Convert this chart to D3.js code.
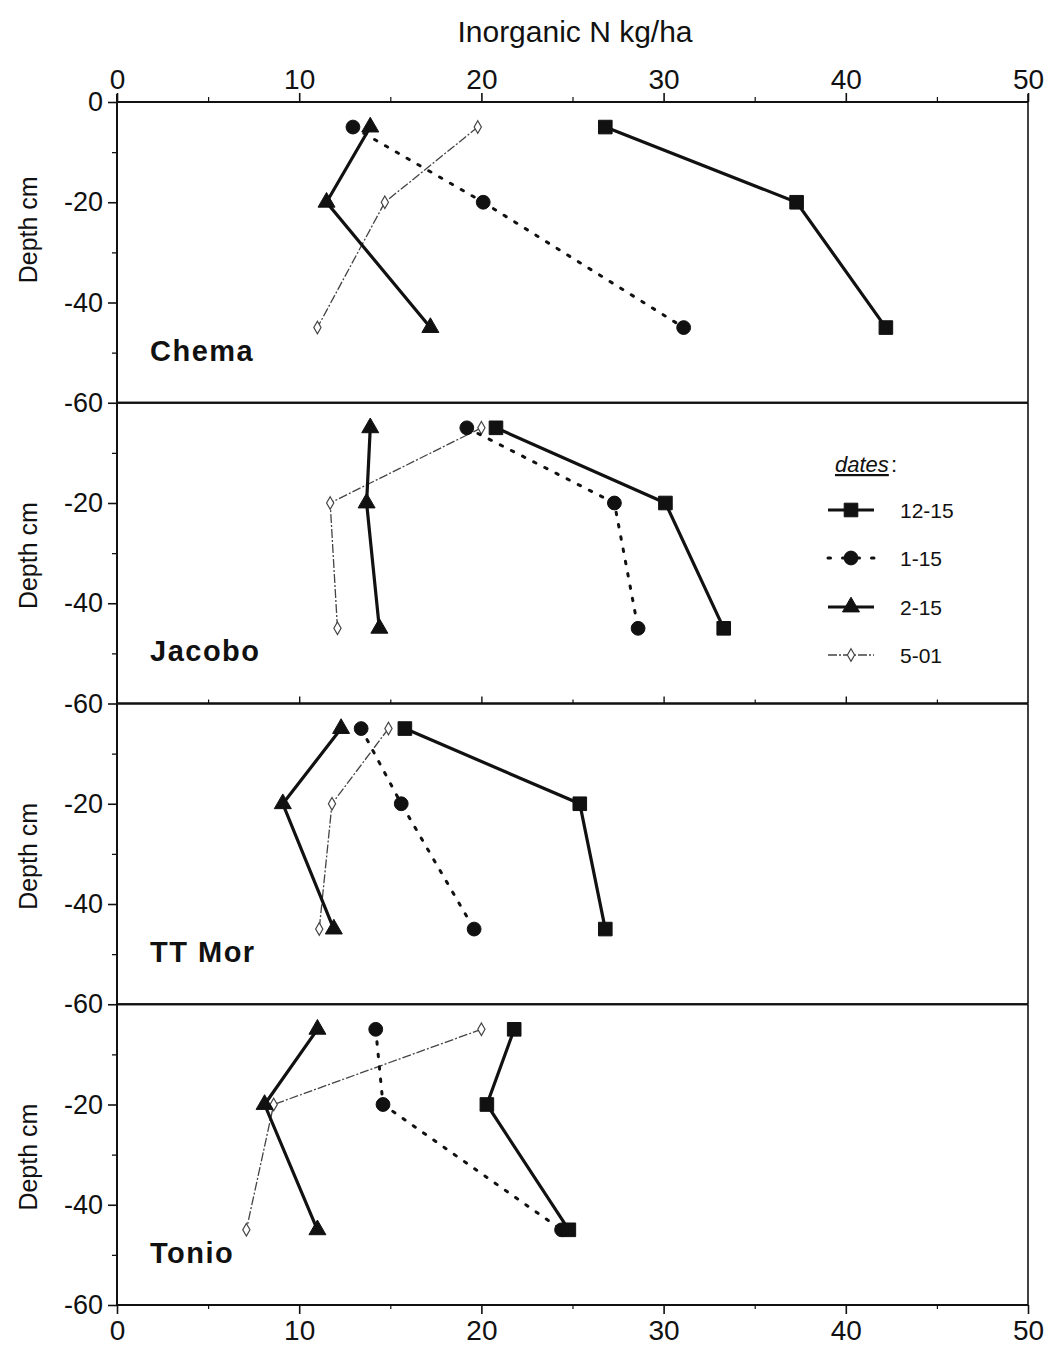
<!DOCTYPE html>
<html><head><meta charset="utf-8">
<script src="https://cdn.jsdelivr.net/npm/d3@7"></script>
<style>body{margin:0;background:#fff}svg{display:block}</style>
</head><body>
<svg id="c" width="1051" height="1352"></svg>
<script>
// ---- data ----
const sites = ["Chema", "Jacobo", "TT Mor", "Tonio"];
const dateLabels = ["12-15", "1-15", "2-15", "5-01"];
const depths = [-5, -20, -45];
// values per site (rows) at depths -5, -20, -45
const d1215 = [[26.8, 37.3, 42.2], [20.8, 30.1, 33.3], [15.8, 25.4, 26.8], [21.8, 20.3, 24.8]];
const d0115 = [[12.95, 20.1, 31.1], [19.2, 27.3, 28.6], [13.4, 15.6, 19.6], [14.2, 14.6, 24.4]];
const d0215 = [[13.9, 11.5, 17.2], [13.9, 13.7, 14.4], [12.3, 9.1, 11.9], [11.0, 8.1, 11.0]];
const d0501 = [[19.8, 14.7, 11.0], [20.0, 11.7, 12.1], [14.9, 11.8, 11.1], [20.0, 8.6, 7.1]];
const xTicks = [0, 10, 20, 30, 40, 50];
const xMinor = [5, 15, 25, 35, 45];
const yTicks = [0, -20, -40, -60];
const yMinor = [-10, -30, -50];

// ---- layout ----
const svg = d3.select("#c");
const leftX = 117, rightX = 1028, topY = 102, panelH = 300.75;
const font = "'Liberation Sans', Arial, sans-serif";
const x = d3.scaleLinear().domain([0, 50]).range([leftX, rightX]);

const series = [
  {name: dateLabels[0], vals: d1215, sym: d3.symbolSquare, size: 185, fill: "#111", stroke: "#111", sw: 3.2, dash: null, msw: 1},
  {name: dateLabels[1], vals: d0115, sym: d3.symbolCircle, size: 150, fill: "#111", stroke: "#111", sw: 3, dash: "2.5 10", msw: 1},
  {name: dateLabels[2], vals: d0215, sym: d3.symbolTriangle, size: 125, fill: "#111", stroke: "#111", sw: 3.2, dash: null, msw: 1},
  {name: dateLabels[3], vals: d0501, sym: d3.symbolDiamond, size: 45, fill: "#fff", stroke: "#444", sw: 1.3, dash: "9 2 2 2", msw: 1.2}
];
const drawOrder = [3, 1, 2, 0];

// top x axis
const gTop = svg.append("g").attr("transform", `translate(0,${topY})`)
  .call(d3.axisTop(x).tickValues(xTicks).tickSize(9).tickFormat(d3.format("d")));
gTop.select(".domain").remove();
gTop.selectAll("line").attr("stroke", "#111").attr("stroke-width", 1.6);
gTop.selectAll("text").attr("font-family", font).attr("font-size", 28).attr("fill", "#111").attr("dy", "-0.05em");
svg.append("g").attr("transform", `translate(0,${topY})`)
  .call(d3.axisTop(x).tickValues(xMinor).tickSize(5).tickFormat(""))
  .call(g => g.select(".domain").remove())
  .selectAll("line").attr("stroke", "#111").attr("stroke-width", 1.2);

svg.append("text").attr("x", 575).attr("y", 42).attr("text-anchor", "middle")
  .attr("font-family", font).attr("font-size", 30).attr("fill", "#111").text("Inorganic N kg/ha");

sites.forEach((site, i) => {
  const y0 = topY + i * panelH;
  const y = d3.scaleLinear().domain([0, -60]).range([y0, y0 + panelH]);
  const g = svg.append("g");

  // left axis
  const ticks = i === 0 ? yTicks : yTicks.slice(1);
  const ga = g.append("g").attr("transform", `translate(${leftX},0)`)
    .call(d3.axisLeft(y).tickValues(ticks).tickSize(9).tickPadding(5).tickFormat(d => String(d)));
  ga.select(".domain").remove();
  ga.selectAll("line").attr("stroke", "#111").attr("stroke-width", 1.6);
  ga.selectAll("text").attr("font-family", font).attr("font-size", 27).attr("fill", "#111");
  g.append("g").attr("transform", `translate(${leftX},0)`)
    .call(d3.axisLeft(y).tickValues(yMinor).tickSize(5).tickFormat(""))
    .call(s => s.select(".domain").remove())
    .selectAll("line").attr("stroke", "#111").attr("stroke-width", 1.3);

  // frame lines
  g.append("line").attr("x1", leftX).attr("x2", rightX).attr("y1", y(0)).attr("y2", y(0))
    .attr("stroke", "#111").attr("stroke-width", 2.2);
  g.append("line").attr("x1", leftX).attr("x2", rightX).attr("y1", y(-60)).attr("y2", y(-60))
    .attr("stroke", "#111").attr("stroke-width", 2.2);
  g.append("line").attr("x1", leftX).attr("x2", leftX).attr("y1", y(0) - (i === 0 ? 8 : 0)).attr("y2", y(-60))
    .attr("stroke", "#111").attr("stroke-width", 2);
  g.append("line").attr("x1", rightX).attr("x2", rightX).attr("y1", y(0) - (i === 0 ? 8 : 0)).attr("y2", y(-60))
    .attr("stroke", "#111").attr("stroke-width", 1.6);

  // inner x ticks on Jacobo's bottom edge
  if (i === 1) {
    g.append("g").attr("transform", `translate(0,${y(-60)})`)
      .call(d3.axisTop(x).tickValues(xTicks.slice(1, -1)).tickSize(7).tickFormat(""))
      .call(s => s.select(".domain").remove())
      .selectAll("line").attr("stroke", "#111").attr("stroke-width", 1.4);
    g.append("g").attr("transform", `translate(0,${y(-60)})`)
      .call(d3.axisTop(x).tickValues(xMinor).tickSize(4).tickFormat(""))
      .call(s => s.select(".domain").remove())
      .selectAll("line").attr("stroke", "#111").attr("stroke-width", 1.2);
  }

  // y title
  const yc = i === 0 ? y(-25.5) : y(-30.5);
  g.append("text").attr("transform", `translate(37,${yc}) rotate(-90)`).attr("text-anchor", "middle")
    .attr("font-family", font).attr("font-size", 25).attr("fill", "#111").text("Depth cm");

  // site label
  g.append("text").attr("x", 150).attr("y", y(-51.6)).attr("font-family", font).attr("font-weight", "bold")
    .attr("font-size", 29).attr("letter-spacing", 1.5).attr("fill", "#111").text(site);

  // series
  drawOrder.forEach(k => {
    const s = series[k];
    const pts = depths.map((d, j) => [s.vals[i][j], d]);
    g.append("path").datum(pts)
      .attr("d", d3.line().x(p => x(p[0])).y(p => y(p[1])))
      .attr("fill", "none").attr("stroke", s.stroke).attr("stroke-width", s.sw)
      .attr("stroke-dasharray", s.dash).attr("stroke-linecap", k === 1 ? "round" : "butt");
    g.selectAll(null).data(pts).enter().append("path")
      .attr("transform", p => `translate(${x(p[0])},${y(p[1])})`)
      .attr("d", d3.symbol().type(s.sym).size(s.size))
      .attr("fill", s.fill).attr("stroke", s.stroke).attr("stroke-width", s.msw);
  });
});

// bottom x axis
const yb = topY + 4 * panelH;
const gb = svg.append("g").attr("transform", `translate(0,${yb})`)
  .call(d3.axisBottom(x).tickValues(xTicks).tickSize(9).tickPadding(6).tickFormat(d3.format("d")));
gb.select(".domain").remove();
gb.selectAll("line").attr("stroke", "#111").attr("stroke-width", 1.6);
gb.selectAll("text").attr("font-family", font).attr("font-size", 28).attr("fill", "#111");
svg.append("g").attr("transform", `translate(0,${yb})`)
  .call(d3.axisBottom(x).tickValues(xMinor).tickSize(4).tickFormat(""))
  .call(g => g.select(".domain").remove())
  .selectAll("line").attr("stroke", "#111").attr("stroke-width", 1.2);

// legend
const lg = svg.append("g").attr("transform", "translate(828,0)");
lg.append("text").attr("x", 7).attr("y", 472).attr("font-family", font).attr("font-style", "italic")
  .attr("font-size", 22).attr("fill", "#111").attr("text-decoration", "underline").text("dates");
lg.append("text").attr("x", 63).attr("y", 472).attr("font-family", font)
  .attr("font-size", 22).attr("fill", "#111").text(":");
const legY = [510, 558, 607, 655];
series.forEach((s, k) => {
  const row = lg.append("g").attr("transform", `translate(0,${legY[k]})`);
  row.append("line").attr("x1", 0).attr("x2", 46).attr("y1", 0).attr("y2", 0)
    .attr("stroke", s.stroke).attr("stroke-width", s.sw).attr("stroke-dasharray", k === 1 ? "2.5 12" : (k === 3 ? "9 2 2 2" : null))
    .attr("stroke-linecap", k === 1 ? "round" : "butt");
  row.append("path").attr("transform", "translate(23,0)")
    .attr("d", d3.symbol().type(s.sym).size(s.size))
    .attr("fill", s.fill).attr("stroke", s.stroke).attr("stroke-width", s.msw);
  row.append("text").attr("x", 72).attr("y", 8).attr("font-family", font).attr("font-size", 21)
    .attr("fill", "#111").text(s.name);
});
</script>
</body></html>
